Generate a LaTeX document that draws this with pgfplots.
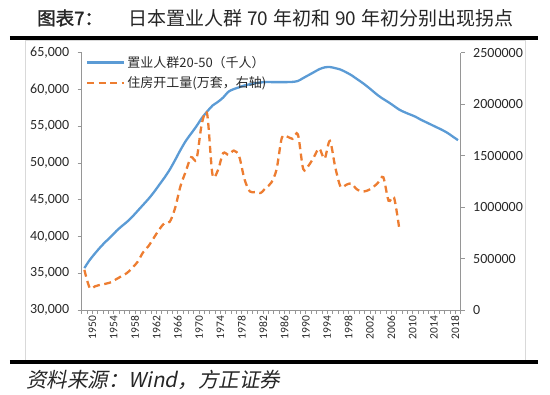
\documentclass[border=0pt]{standalone}
\usepackage{pgfplots}
\usepackage{pgfplotstable}
\pgfplotsset{compat=1.18}
\usepackage{fontspec}
\setmainfont{Carlito}
\newfontfamily\cjk{Noto Sans CJK SC}
\newfontfamily\cjkb[FakeBold=1.5]{Noto Sans CJK SC}
\newfontfamily\cjkit[FakeSlant=0.2]{Noto Sans CJK SC}
\definecolor{popblue}{RGB}{91,155,213}
\definecolor{startorange}{RGB}{237,125,49}
\definecolor{axisgray}{RGB}{150,150,150}
\definecolor{labelgray}{RGB}{40,40,40}

\pgfplotstableread{
year pop
1950 35700
1951 36800
1952 37700
1953 38550
1954 39300
1955 40000
1956 40750
1957 41400
1958 42000
1959 42700
1960 43500
1961 44300
1962 45100
1963 46000
1964 47000
1965 48000
1966 49100
1967 50400
1968 51760
1969 53000
1970 54000
1971 55000
1972 56100
1973 57000
1974 57800
1975 58300
1976 58900
1977 59700
1978 60050
1979 60300
1980 60550
1981 60700
1982 60850
1983 60950
1984 61000
1985 61000
1986 61000
1987 61000
1988 61000
1989 61030
1990 61150
1991 61550
1992 61950
1993 62350
1994 62750
1995 63000
1996 63050
1997 62900
1998 62700
1999 62350
2000 61950
2001 61450
2002 60950
2003 60400
2004 59800
2005 59200
2006 58700
2007 58250
2008 57750
2009 57250
2010 56900
2011 56600
2012 56300
2013 55900
2014 55550
2015 55200
2016 54850
2017 54500
2018 54100
2019 53600
2020 53100
}\popdata

\pgfplotstableread{
year starts
1950 390000
1951 215000
1952 230000
1953 245000
1954 255000
1955 270000
1956 300000
1957 330000
1958 360000
1959 410000
1960 470000
1961 560000
1962 620000
1963 700000
1964 780000
1965 843000
1966 857000
1967 991000
1968 1202000
1969 1347000
1970 1485000
1971 1464000
1972 1808000
1973 1905000
1974 1316000
1975 1356000
1976 1524000
1977 1508000
1978 1549000
1979 1493000
1980 1269000
1981 1152000
1982 1146000
1983 1137000
1984 1187000
1985 1236000
1986 1365000
1987 1674000
1988 1685000
1989 1663000
1990 1707000
1991 1370000
1992 1403000
1993 1486000
1994 1570000
1995 1470000
1996 1643000
1997 1387000
1998 1198000
1999 1215000
2000 1230000
2001 1174000
2002 1151000
2003 1160000
2004 1189000
2005 1236000
2006 1290000
2007 1061000
2008 1094000
2009 788000
}\startsdata

\pgfplotsset{
  commonaxis/.style={
    scale only axis, width=379pt, height=257.3pt,
    xmin=1949.5, xmax=2020.5,
    scaled y ticks=false,
    tick align=outside,
    major tick length=4pt, minor tick length=4pt,
    axis line style={draw=axisgray, line width=0.8pt},
    tick style={draw=axisgray, line width=0.8pt},
    yticklabel style={font=\fontsize{14}{14}\selectfont, text=labelgray},
  }
}

\begin{document}
\begin{tikzpicture}
\useasboundingbox (-81.7pt,-85pt) rectangle (468.3pt,310pt);
\draw[gray!30, line width=0.8pt] (-56.2pt,-50pt) rectangle (443.3pt,270pt);

\begin{axis}[commonaxis,
  ymin=30000, ymax=65000,
  axis y line*=left, axis x line*=bottom,
  xtick={1950,1954,1958,1962,1966,1970,1974,1978,1982,1986,1990,1994,1998,2002,2006,2010,2014,2018},
  xticklabels={1950,1954,1958,1962,1966,1970,1974,1978,1982,1986,1990,1994,1998,2002,2006,2010,2014,2018},
  minor xtick={1949.5,1950.5,...,2020.5},
  major x tick style={draw=none},
  ytick={30000,35000,40000,45000,50000,55000,60000,65000},
  yticklabels={30{,}000,35{,}000,40{,}000,45{,}000,50{,}000,55{,}000,60{,}000,65{,}000},
  yticklabel style={xshift=-5pt},
  xticklabel style={rotate=90, anchor=east, font=\fontsize{11.5}{11.5}\selectfont,
    text=labelgray, yshift=-8pt, xshift=1.5pt},
  legend style={draw=none, fill=none, at={(0.011,0.995)}, anchor=north west,
    font=\cjk\fontsize{13}{13}\selectfont, text=labelgray, row sep=4pt,
    inner sep=0pt, cells={anchor=west}},
  legend image code/.code={\draw[#1] (0pt,0pt) -- (37pt,0pt);},
]
\addplot[popblue, line width=2.3pt, smooth] table[x=year, y=pop] {\popdata};
\addlegendentry{置业人群20-50（千人）}
\addlegendimage{startorange, line width=2.3pt, dash pattern=on 7pt off 4.5pt}
\addlegendentry{住房开工量(万套，右轴)}
\end{axis}

\begin{axis}[commonaxis,
  ymin=0, ymax=2500000,
  axis y line*=right, axis x line=none,
  ytick={0,500000,1000000,1500000,2000000,2500000},
  yticklabels={0,500000,1000000,1500000,2000000,2500000},
  yticklabel style={xshift=5pt},
]
\addplot[startorange, line width=2.3pt, dash pattern=on 7pt off 4.5pt, smooth]
  table[x=year, y=starts] {\startsdata};
\end{axis}

\draw[line width=3.5pt] (-71.7pt,272pt) -- (456.3pt,272pt);
\draw[line width=3.5pt] (-71.7pt,-52pt) -- (456.3pt,-52pt);
\node[anchor=west, inner sep=0pt, text=black!85, font=\cjkb\fontsize{18.5}{18.5}\selectfont]
  at (-44.7pt,292pt) {图表7：};
\node[anchor=west, inner sep=0pt, text=black!85, font=\cjk\fontsize{19}{19}\selectfont]
  at (46.3pt,292pt) {日本置业人群\hspace{5pt}70\hspace{5pt}年初和\hspace{5pt}90\hspace{5pt}年初分别出现拐点};
\node[anchor=west, inner sep=0pt, text=black!85, font=\cjkit\fontsize{20.5}{20.5}\selectfont]
  at (-55.7pt,-70pt) {资料来源：Wind，方正证券};
\end{tikzpicture}
\end{document}
